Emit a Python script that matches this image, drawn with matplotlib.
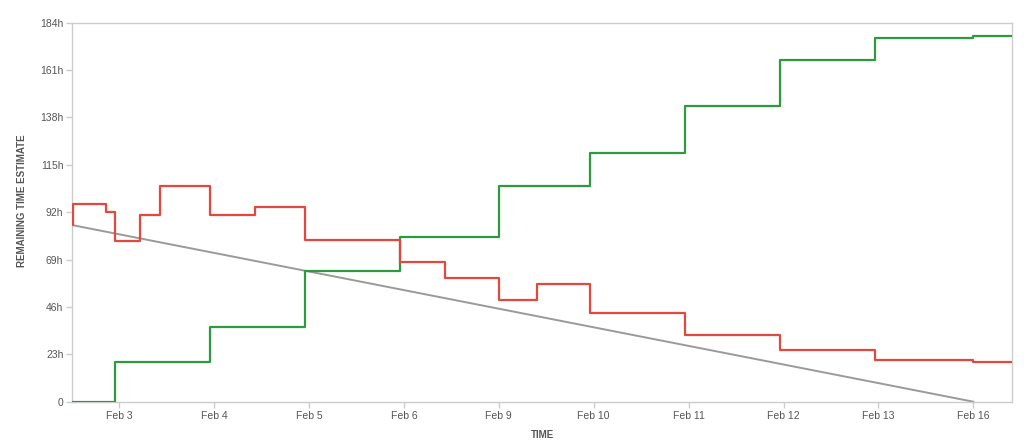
import matplotlib
matplotlib.use("Agg")
import matplotlib.pyplot as plt

plt.rcParams["font.family"] = ["Liberation Sans", "DejaVu Sans"]

# Categories (working days) on the x axis
days = ["Feb 3", "Feb 4", "Feb 5", "Feb 6", "Feb 9", "Feb 10", "Feb 11", "Feb 12", "Feb 13", "Feb 16"]

# Remaining estimate (red) - change times (day index units) and hours
remaining_t = [-0.5, -0.49, -0.14, -0.04, 0.22, 0.435, 0.96, 1.43, 1.96, 2.96, 3.435, 4.0, 4.40, 4.96, 5.96, 6.96, 7.96, 9.0, 9.41]
remaining_h = [85.8, 95.9, 92.1, 78.0, 90.6, 104.9, 90.6, 94.7, 78.3, 67.8, 59.9, 49.2, 57.0, 43.1, 32.2, 25.1, 20.1, 19.1, 19.1]

# Completed work (green)
completed_t = [-0.5, -0.04, 0.96, 1.96, 2.96, 4.0, 4.96, 5.96, 6.96, 7.96, 9.0, 9.41]
completed_h = [0.0, 19.1, 36.1, 63.6, 79.8, 104.9, 120.9, 143.5, 165.7, 176.6, 177.7, 177.7]

# Ideal burndown (gray)
ideal_t = [-0.5, 9.0]
ideal_h = [85.8, 0.0]

y_ticks = [0, 23, 46, 69, 92, 115, 138, 161, 184]
y_labels = ["0", "23h", "46h", "69h", "92h", "115h", "138h", "161h", "184h"]

fig = plt.figure(figsize=(10.24, 4.48), dpi=100)
ax = fig.add_axes([0.070, 0.1033, 0.9186, 0.846])

ax.plot(ideal_t, ideal_h, color="#9a9a9a", lw=1.4, zorder=2)
ax.step(completed_t, completed_h, where="post", color="#2e9a3e", lw=1.6, zorder=3)
ax.step(remaining_t, remaining_h, where="post", color="#e2483d", lw=1.6, zorder=4)

ax.set_xlim(-0.5, 9.41)
ax.set_ylim(0, 184)
ax.set_xticks(range(len(days)))
ax.set_xticklabels(days)
ax.set_yticks(y_ticks)
ax.set_yticklabels(y_labels)

for s in ax.spines.values():
    s.set_color("#cccccc")
    s.set_linewidth(1.0)

ax.tick_params(axis="both", colors="#cccccc", labelcolor="#555555", labelsize=7.5, length=4, width=1)
ax.tick_params(axis="x", pad=3)
ax.tick_params(axis="y", pad=2)

ax.set_xlabel("TIME", fontsize=7, fontweight="bold", color="#555555", labelpad=6)
ax.set_ylabel("REMAINING TIME ESTIMATE", fontsize=7, fontweight="bold", color="#555555", labelpad=8)
ax.yaxis.set_label_coords(-0.048, 0.53)

fig.savefig("out.png", dpi=100, facecolor="white")
